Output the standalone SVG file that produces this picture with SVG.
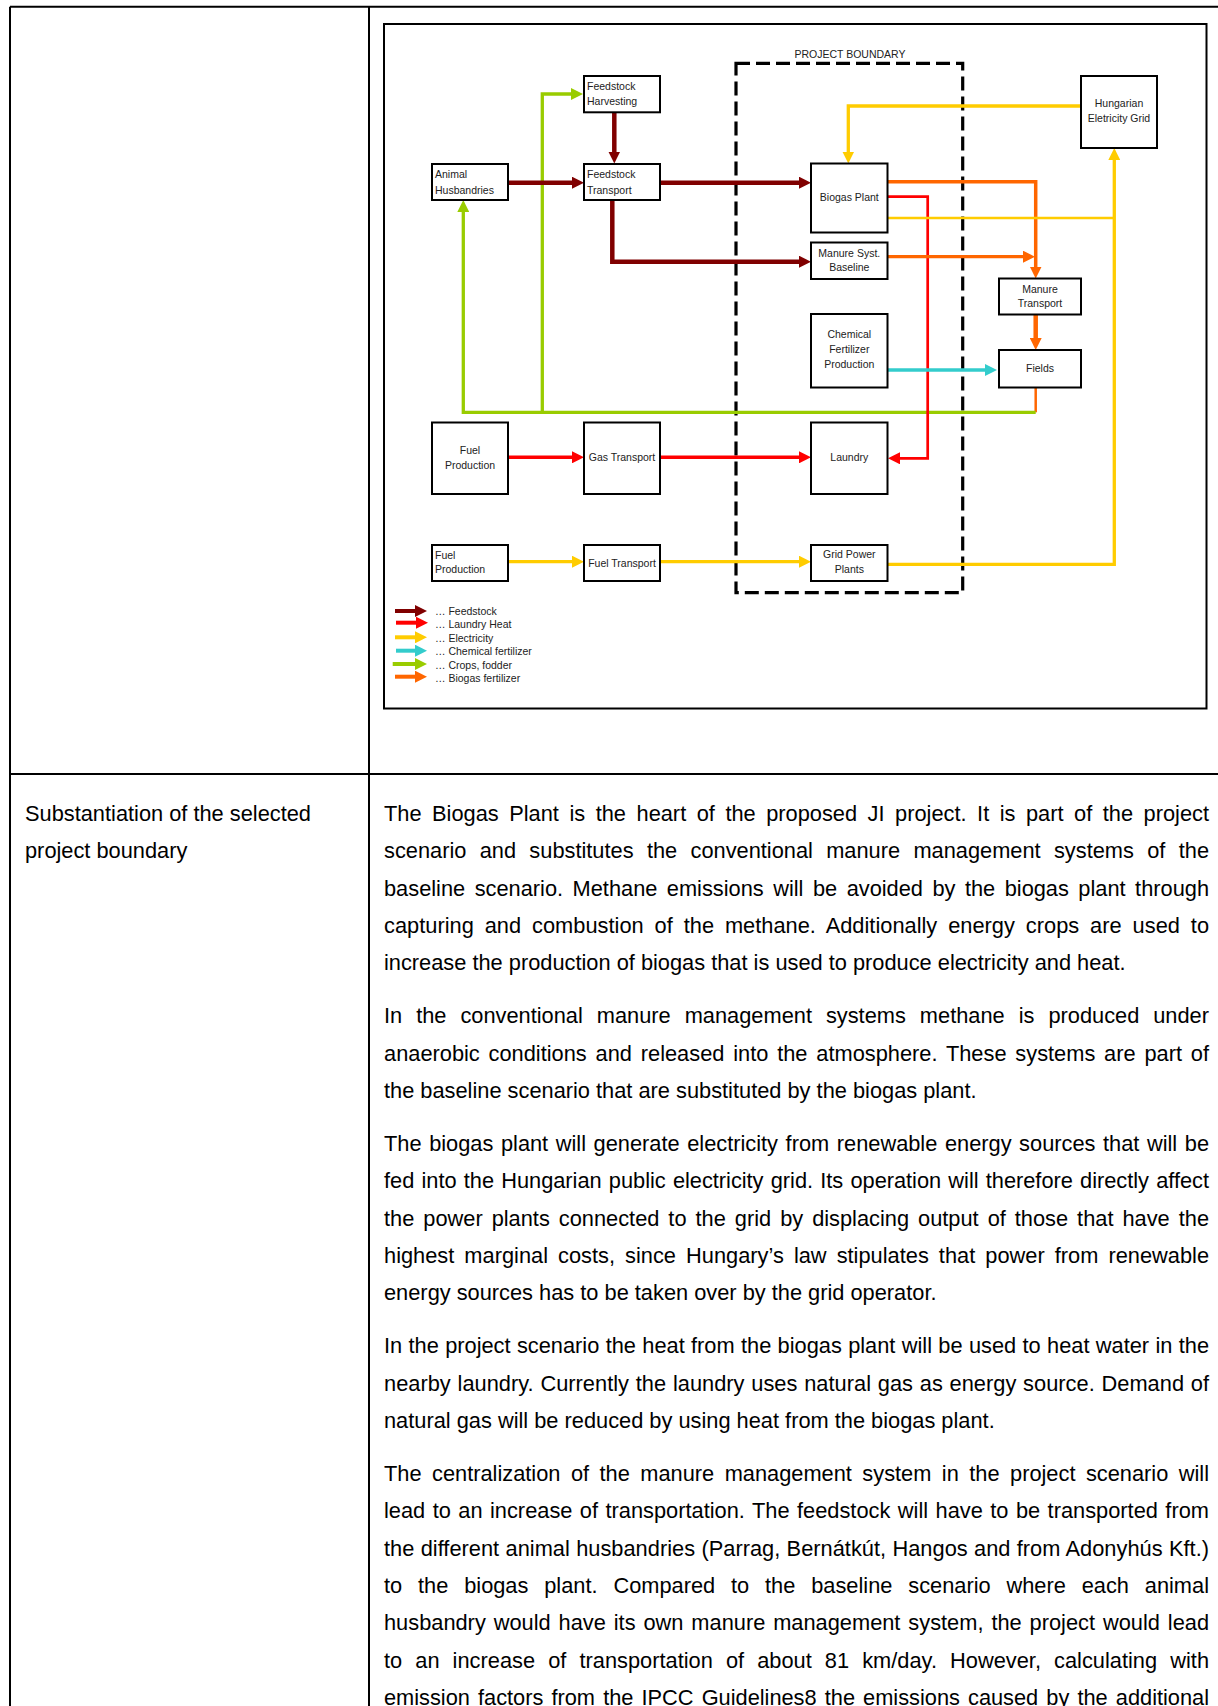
<svg xmlns="http://www.w3.org/2000/svg" width="1218" height="1706" viewBox="0 0 1218 1706">
<style>
.tb{stroke:#000;stroke-width:2;fill:none}
.box{fill:#fff;stroke:#000;stroke-width:2}
.nt{font-family:"Liberation Sans",Arial,sans-serif;font-size:10.5px;fill:#222}
.c{text-anchor:middle}
.body{font-family:"Liberation Sans",Arial,sans-serif;font-size:21.8px;fill:#000}
.ln{fill:none;stroke-linejoin:miter}
.dred{stroke:#800000}
.red{stroke:#ff0000}
.yel{stroke:#ffcc00}
.cy{stroke:#33cccc}
.gr{stroke:#99cc00}
.or{stroke:#ff6600}
</style>
<defs>
<marker id="a-dred" markerUnits="userSpaceOnUse" markerWidth="12" markerHeight="12" viewBox="0 0 12 12" refX="4" refY="6" orient="auto"><path d="M0,0 L12,6 L0,12 Z" fill="#800000"/></marker>
<marker id="a-red" markerUnits="userSpaceOnUse" markerWidth="12" markerHeight="12" viewBox="0 0 12 12" refX="4" refY="6" orient="auto"><path d="M0,0 L12,6 L0,12 Z" fill="#ff0000"/></marker>
<marker id="a-yel" markerUnits="userSpaceOnUse" markerWidth="12" markerHeight="12" viewBox="0 0 12 12" refX="4" refY="6" orient="auto"><path d="M0,0 L12,6 L0,12 Z" fill="#ffcc00"/></marker>
<marker id="a-cy" markerUnits="userSpaceOnUse" markerWidth="12" markerHeight="12" viewBox="0 0 12 12" refX="4" refY="6" orient="auto"><path d="M0,0 L12,6 L0,12 Z" fill="#33cccc"/></marker>
<marker id="a-gr" markerUnits="userSpaceOnUse" markerWidth="12" markerHeight="12" viewBox="0 0 12 12" refX="4" refY="6" orient="auto"><path d="M0,0 L12,6 L0,12 Z" fill="#99cc00"/></marker>
<marker id="a-or" markerUnits="userSpaceOnUse" markerWidth="12" markerHeight="12" viewBox="0 0 12 12" refX="4" refY="6" orient="auto"><path d="M0,0 L12,6 L0,12 Z" fill="#ff6600"/></marker>
</defs>
<rect width="1218" height="1706" fill="#fff"/>

<g id="table">
<path class="tb" d="M10,6.7 H1218"/>
<path class="tb" d="M10,6.7 V1706"/>
<path class="tb" d="M369,6.7 V1706"/>
<path class="tb" d="M10,774 H1218"/>
</g>

<g id="diagram-frame">
<rect x="384" y="24" width="822.5" height="684.5" fill="none" stroke="#000" stroke-width="2"/>
</g>

<g id="project-boundary">
<rect x="736" y="63.3" width="226.7" height="529.4" fill="none" stroke="#000" stroke-width="3.2" stroke-dasharray="14 6"/>
<text class="nt c" x="850" y="58.3">PROJECT BOUNDARY</text>
</g>

<g id="connectors">
<path class="ln or" stroke-width="2.5" d="M1035.7,387.5 V412.3"/>
<path class="ln gr" stroke-width="3.3" d="M1035.7,412.3 H463.3 V208" marker-end="url(#a-gr)"/>
<path class="ln gr" stroke-width="3.3" d="M542.3,412.3 V94 H575" marker-end="url(#a-gr)"/>
<path class="ln dred" stroke-width="4.5" d="M614.3,112.3 V155.5" marker-end="url(#a-dred)"/>
<path class="ln dred" stroke-width="4.5" d="M508,182.7 H576" marker-end="url(#a-dred)"/>
<path class="ln dred" stroke-width="4.5" d="M660,182.7 H803" marker-end="url(#a-dred)"/>
<path class="ln dred" stroke-width="4.5" d="M612.3,200 V261.7 H803" marker-end="url(#a-dred)"/>
<path class="ln yel" stroke-width="3.3" d="M1081,106 H848.3 V155.5" marker-end="url(#a-yel)"/>
<path class="ln or" stroke-width="3.5" d="M887.7,181.7 H1035.7 V270.5" marker-end="url(#a-or)"/>
<path class="ln red" stroke-width="2.7" d="M886,196.7 H927.7 V458.3 H896" marker-end="url(#a-red)"/>
<path class="ln yel" stroke-width="2.5" d="M886,218 H1114.3"/>
<path class="ln yel" stroke-width="3.3" d="M887.7,564.3 H1114.3 V156" marker-end="url(#a-yel)"/>
<path class="ln or" stroke-width="3.3" d="M887.7,256.7 H1027" marker-end="url(#a-or)"/>
<path class="ln or" stroke-width="4.5" d="M1035.7,314.5 V342" marker-end="url(#a-or)"/>
<path class="ln cy" stroke-width="3.5" d="M887.7,370 H989" marker-end="url(#a-cy)"/>
<path class="ln red" stroke-width="3.5" d="M508,457.3 H576" marker-end="url(#a-red)"/>
<path class="ln red" stroke-width="3.5" d="M660,457.3 H803" marker-end="url(#a-red)"/>
<path class="ln yel" stroke-width="3.3" d="M508,561.7 H576" marker-end="url(#a-yel)"/>
<path class="ln yel" stroke-width="3.3" d="M660,561.7 H803" marker-end="url(#a-yel)"/>
</g>

<g id="feedstock-harvesting">
<rect class="box" x="584" y="76" width="76" height="36.3"/>
<text class="nt" x="587" y="90">Feedstock</text>
<text class="nt" x="587" y="105">Harvesting</text>
</g>
<g id="animal-husbandries">
<rect class="box" x="432" y="164" width="76" height="36"/>
<text class="nt" x="435" y="178.3">Animal</text>
<text class="nt" x="435" y="194">Husbandries</text>
</g>
<g id="feedstock-transport">
<rect class="box" x="584" y="164" width="76" height="36"/>
<text class="nt" x="587" y="178.3">Feedstock</text>
<text class="nt" x="587" y="194">Transport</text>
</g>
<g id="biogas-plant">
<rect class="box" x="811" y="163.5" width="76.5" height="69"/>
<text class="nt c" x="849.3" y="200.7">Biogas Plant</text>
</g>
<g id="manure-syst-baseline">
<rect class="box" x="811" y="242.5" width="76.5" height="36.5"/>
<text class="nt c" x="849.3" y="256.7">Manure Syst.</text>
<text class="nt c" x="849.3" y="271">Baseline</text>
</g>
<g id="hungarian-grid">
<rect class="box" x="1081" y="76" width="76" height="72"/>
<text class="nt c" x="1119" y="106.7">Hungarian</text>
<text class="nt c" x="1119" y="121.7">Eletricity Grid</text>
</g>
<g id="manure-transport">
<rect class="box" x="999" y="278.5" width="82" height="36"/>
<text class="nt c" x="1040" y="292.7">Manure</text>
<text class="nt c" x="1040" y="307.3">Transport</text>
</g>
<g id="fields">
<rect class="box" x="999" y="350" width="82" height="37.5"/>
<text class="nt c" x="1040" y="371.7">Fields</text>
</g>
<g id="chemical-fertilizer-production">
<rect class="box" x="811" y="314" width="76.5" height="73.5"/>
<text class="nt c" x="849.3" y="337.7">Chemical</text>
<text class="nt c" x="849.3" y="353.3">Fertilizer</text>
<text class="nt c" x="849.3" y="368.3">Production</text>
</g>
<g id="laundry">
<rect class="box" x="811" y="422.5" width="76.5" height="71.5"/>
<text class="nt c" x="849.3" y="460.7">Laundry</text>
</g>
<g id="grid-power-plants">
<rect class="box" x="811" y="545" width="76.5" height="36"/>
<text class="nt c" x="849.3" y="558.3">Grid Power</text>
<text class="nt c" x="849.3" y="573.3">Plants</text>
</g>
<g id="fuel-production-gas">
<rect class="box" x="432" y="422.5" width="76" height="71.5"/>
<text class="nt c" x="470" y="454">Fuel</text>
<text class="nt c" x="470" y="469">Production</text>
</g>
<g id="gas-transport">
<rect class="box" x="584" y="422.5" width="76" height="71.5"/>
<text class="nt c" x="622" y="460.7">Gas Transport</text>
</g>
<g id="fuel-production-power">
<rect class="box" x="432" y="545" width="76" height="36"/>
<text class="nt" x="435" y="558.7">Fuel</text>
<text class="nt" x="435" y="573.3">Production</text>
</g>
<g id="fuel-transport">
<rect class="box" x="584" y="545" width="76" height="36"/>
<text class="nt c" x="622" y="566.7">Fuel Transport</text>
</g>

<g id="legend">
<path class="ln dred" stroke-width="4" d="M395,611 H419" marker-end="url(#a-dred)"/>
<path class="ln red" stroke-width="4" d="M396,622.7 H420" marker-end="url(#a-red)"/>
<path class="ln yel" stroke-width="4" d="M395,637.3 H419" marker-end="url(#a-yel)"/>
<path class="ln cy" stroke-width="4" d="M396,650.7 H419" marker-end="url(#a-cy)"/>
<path class="ln gr" stroke-width="4" d="M392.7,664 H419" marker-end="url(#a-gr)"/>
<path class="ln or" stroke-width="4" d="M395,676.7 H419" marker-end="url(#a-or)"/>
<text class="nt" x="435" y="615">… Feedstock</text>
<text class="nt" x="435" y="628.3">… Laundry Heat</text>
<text class="nt" x="435" y="641.7">… Electricity</text>
<text class="nt" x="435" y="655">… Chemical fertilizer</text>
<text class="nt" x="435" y="669.3">… Crops, fodder</text>
<text class="nt" x="435" y="681.7">… Biogas fertilizer</text>
</g>

<g id="left-label">
<text class="body" x="25" y="821">Substantiation of the selected</text>
<text class="body" x="25" y="858.3">project boundary</text>
</g>

<g id="body-text">
<text class="body" x="384" y="821" word-spacing="4.46" textLength="825" lengthAdjust="spacing">The Biogas Plant is the heart of the proposed JI project. It is part of the project</text>
<text class="body" x="384" y="858.3" word-spacing="7.26" textLength="825" lengthAdjust="spacing">scenario and substitutes the conventional manure management systems of the</text>
<text class="body" x="384" y="895.6" word-spacing="3.4" textLength="825" lengthAdjust="spacing">baseline scenario. Methane emissions will be avoided by the biogas plant through</text>
<text class="body" x="384" y="932.9" word-spacing="4.83" textLength="825" lengthAdjust="spacing">capturing and combustion of the methane. Additionally energy crops are used to</text>
<text class="body" x="384" y="970.2">increase the production of biogas that is used to produce electricity and heat.</text>

<text class="body" x="384" y="1023.3" word-spacing="7.92" textLength="825" lengthAdjust="spacing">In the conventional manure management systems methane is produced under</text>
<text class="body" x="384" y="1060.6" word-spacing="2.74" textLength="825" lengthAdjust="spacing">anaerobic conditions and released into the atmosphere. These systems are part of</text>
<text class="body" x="384" y="1097.9">the baseline scenario that are substituted by the biogas plant.</text>

<text class="body" x="384" y="1151" word-spacing="1.51" textLength="825" lengthAdjust="spacing">The biogas plant will generate electricity from renewable energy sources that will be</text>
<text class="body" x="384" y="1188.3" word-spacing="1.18" textLength="825" lengthAdjust="spacing">fed into the Hungarian public electricity grid. Its operation will therefore directly affect</text>
<text class="body" x="384" y="1225.6" word-spacing="2.92" textLength="825" lengthAdjust="spacing">the power plants connected to the grid by displacing output of those that have the</text>
<text class="body" x="384" y="1262.9" word-spacing="3.99" textLength="825" lengthAdjust="spacing">highest marginal costs, since Hungary’s law stipulates that power from renewable</text>
<text class="body" x="384" y="1300.2">energy sources has to be taken over by the grid operator.</text>

<text class="body" x="384" y="1353.3" word-spacing="0.27" textLength="825" lengthAdjust="spacing">In the project scenario the heat from the biogas plant will be used to heat water in the</text>
<text class="body" x="384" y="1390.6" word-spacing="0.69" textLength="825" lengthAdjust="spacing">nearby laundry. Currently the laundry uses natural gas as energy source. Demand of</text>
<text class="body" x="384" y="1427.9">natural gas will be reduced by using heat from the biogas plant.</text>

<text class="body" x="384" y="1481" word-spacing="4.4" textLength="825" lengthAdjust="spacing">The centralization of the manure management system in the project scenario will</text>
<text class="body" x="384" y="1518.3" word-spacing="1.38" textLength="825" lengthAdjust="spacing">lead to an increase of transportation. The feedstock will have to be transported from</text>
<text class="body" x="384" y="1555.6" word-spacing="0.23" textLength="825" lengthAdjust="spacing">the different animal husbandries (Parrag, Bernátkút, Hangos and from Adonyhús Kft.)</text>
<text class="body" x="384" y="1592.9" word-spacing="9.79" textLength="825" lengthAdjust="spacing">to the biogas plant. Compared to the baseline scenario where each animal</text>
<text class="body" x="384" y="1630.2" word-spacing="1.86" textLength="825" lengthAdjust="spacing">husbandry would have its own manure management system, the project would lead</text>
<text class="body" x="384" y="1667.5" word-spacing="7.02" textLength="825" lengthAdjust="spacing">to an increase of transportation of about 81 km/day. However, calculating with</text>
<text class="body" x="384" y="1704.8" word-spacing="2.08" textLength="825" lengthAdjust="spacing">emission factors from the IPCC Guidelines8 the emissions caused by the additional</text>
</g>
</svg>
